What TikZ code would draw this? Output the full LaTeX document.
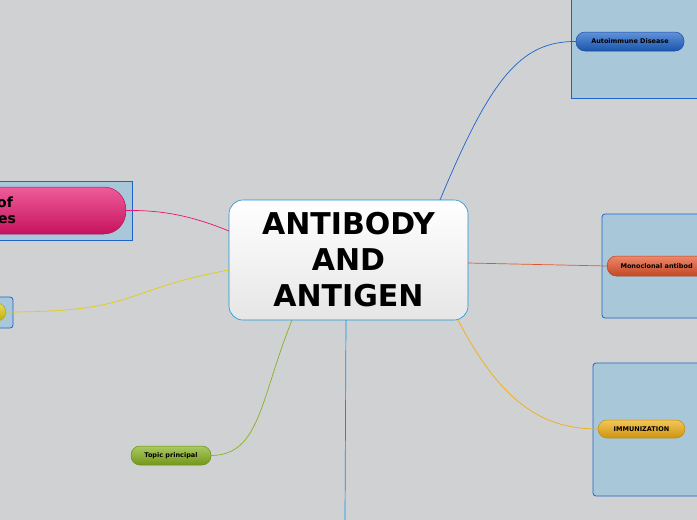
\documentclass[tikz,border=0pt]{standalone}
\usepackage{fontspec}
\setmainfont{DejaVu Sans}
\begin{document}
\begin{tikzpicture}[x=1pt,y=-1pt,
  cont/.style={draw=bluec,fill=contc,line width=0.8pt,rounded corners=3pt},
  pill/.style={rounded corners=9pt,draw=#1!80!black,line width=0.5pt,top color=#1!70,bottom color=#1!85!black},
  lbl/.style={font=\bfseries\fontsize{6.5}{7}\selectfont,text=black}]
\definecolor{bg}{HTML}{D0D1D3}
\definecolor{contc}{HTML}{A8C8DA}
\definecolor{pinkc}{HTML}{E8166E}
\definecolor{bluec}{HTML}{1E63C9}
\definecolor{orc}{HTML}{E5552C}
\definecolor{yelc}{HTML}{F0AE12}
\definecolor{grc}{HTML}{86B21E}
\definecolor{yc}{HTML}{E0CC10}
\useasboundingbox (0,0) rectangle (697,520);
\clip (0,0) rectangle (697,520);
\fill[bg] (0,0) rectangle (697,520);
% containers
\draw[cont,rounded corners=0pt] (571,-5) rectangle (705,98);
\draw[cont] (602,214) rectangle (705,318);
\draw[cont] (593,363) rectangle (705,496);
\draw[cont,rounded corners=0pt] (-5,181) rectangle (132,240);
\draw[cont] (-5,297) rectangle (13,328);
% central
\node[draw=bluec!70!cyan,line width=0.6pt,rounded corners=14pt,top color=white,bottom color=gray!20,
  minimum width=239pt,minimum height=120pt,align=center,font=\bfseries\fontsize{30}{36}\selectfont] (c) at (348.5,260) {ANTIBODY\\AND\\ ANTIGEN};
% pills
\node[pill=bluec,minimum width=108pt,minimum height=19pt,lbl] (a) at (630,41.5) {Autoimmune Disease};
\node[pill=orc,minimum width=110pt,minimum height=20pt,anchor=west,inner sep=0pt] (m) at (607,266) {};
\node[lbl,anchor=west] at (617,266) {Monoclonal antibod};
\node[pill=yelc,minimum width=87pt,minimum height=18pt,lbl] (i) at (641.5,429) {IMMUNIZATION};
\node[pill=grc,minimum width=80pt,minimum height=19pt,lbl] (t) at (171,455.5) {Topic principal};
\node[pill=pinkc,rounded corners=22pt,minimum width=160pt,minimum height=47pt,anchor=east] (p) at (126,210.5) {};
\node[font=\bfseries\fontsize{14}{16}\selectfont,anchor=west,inner sep=0pt] at (-3,202) {of};
\node[font=\bfseries\fontsize{14}{16}\selectfont,anchor=west,inner sep=0pt] at (-2,220) {es};
\node[pill=yc,minimum width=40pt,minimum height=18pt,anchor=east] (y) at (6,312) {};
% connectors
\coordinate (bot) at (345,520);
\draw[bluec,line width=0.7pt] (440,200) .. controls (490,80) and (520,41) .. (a.west);
\draw[orc,line width=0.7pt] (468,263) -- (m.west);
\draw[yelc,line width=0.7pt] (458,320) .. controls (500,400) and (540,429) .. (i.west);
\draw[grc,line width=0.7pt] (292,320) .. controls (260,400) and (260,455) .. (t.east);
\draw[pinkc,line width=0.7pt] (229,231) .. controls (190,215) and (160,210) .. (p.east);
\draw[yc,line width=0.7pt] (229,270) .. controls (120,290) and (140,312) .. (y.east);
\draw[cyan!80!blue,line width=0.7pt] (346,320) -- (bot);
\end{tikzpicture}
\end{document}
